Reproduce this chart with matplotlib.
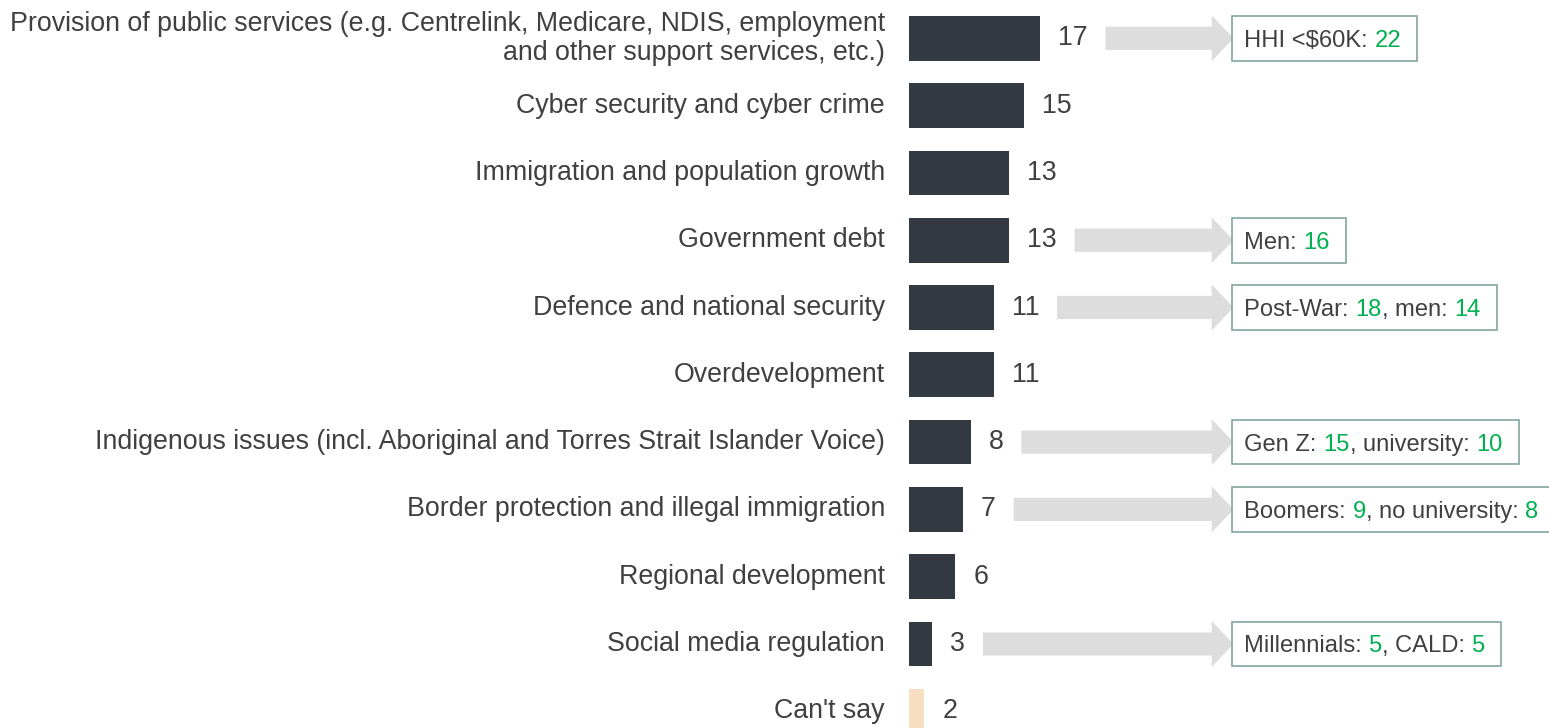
import matplotlib
matplotlib.use("Agg")
import matplotlib.pyplot as plt
from matplotlib.patches import Polygon, Rectangle

# Share of respondents naming each issue (%)
categories = [
    "Provision of public services (e.g. Centrelink, Medicare, NDIS, employment\n"
    "and other support services, etc.)",
    "Cyber security and cyber crime",
    "Immigration and population growth",
    "Government debt",
    "Defence and national security",
    "Overdevelopment",
    "Indigenous issues (incl. Aboriginal and Torres Strait Islander Voice)",
    "Border protection and illegal immigration",
    "Regional development",
    "Social media regulation",
    "Can't say",
]
values = [17, 15, 13, 13, 11, 11, 8, 7, 6, 3, 2]

# Sub-groups that stand out for some issues
callout_rows = [0, 3, 4, 6, 7, 9]
callout_groups = [
    ["HHI <$60K"],
    ["Men"],
    ["Post-War", "men"],
    ["Gen Z", "university"],
    ["Boomers", "no university"],
    ["Millennials", "CALD"],
]
callout_values = [[22], [16], [18, 14], [15, 10], [9, 8], [5, 5]]

W, H, DPI = 1549, 728, 100
BAR_LEFT = 909          # px where the bars start
X_SCALE = 7.69          # px per percentage point
ROW_TOP = 38.3          # px centre of first row
ROW_STEP = 67.3         # px between rows

TEXT = "#404040"
GREEN = "#00b050"
BAR = "#343a42"
CANT_SAY = "#f6dfc1"
ARROW = "#dddddd"
BOX_EDGE = "#82a59d"
FONT = "Liberation Sans"
LABEL_SIZE = 19.3
BOX_SIZE = 17.1


def px(dx):
    """Convert a horizontal pixel distance to data units."""
    return dx / X_SCALE


def text_width(fig, renderer, s, size):
    """Width in px of a string, trailing spaces included."""
    t = fig.text(0, 0, s + "|", fontsize=size, family=FONT)
    bar = fig.text(0, 0, "|", fontsize=size, family=FONT)
    w = t.get_window_extent(renderer).width - bar.get_window_extent(renderer).width
    t.remove()
    bar.remove()
    return w


def draw_callout(ax, fig, renderer, y, x_start, groups, nums):
    """Grey arrow pointing at a framed box with highlighted numbers."""
    bar_h = 44.7 / ROW_STEP
    shaft = 11.6 / ROW_STEP
    head = 23.0 / ROW_STEP
    head_base = px(1211.7 - BAR_LEFT)
    tip = px(1233.5 - BAR_LEFT)
    box_left = px(1232.3 - BAR_LEFT)

    ax.add_patch(Polygon(
        [(x_start, y - shaft), (head_base, y - shaft), (head_base, y - head),
         (tip, y), (head_base, y + head), (head_base, y + shaft),
         (x_start, y + shaft)],
        closed=True, facecolor=ARROW, edgecolor="none", clip_on=False, zorder=2))

    # build the text piece by piece so the numbers can be coloured
    pieces = []
    for i, (g, n) in enumerate(zip(groups, nums)):
        if i > 0:
            pieces.append((", ", TEXT))
        pieces.append((f"{g}: ", TEXT))
        pieces.append((str(n), GREEN))

    x_text = box_left + px(12)
    full = ""
    for s, colour in pieces:
        offset = text_width(fig, renderer, full, BOX_SIZE) if full else 0
        ax.text(x_text + px(offset), y, s, fontsize=BOX_SIZE, family=FONT,
                color=colour, ha="left", va="center_baseline", zorder=4,
                clip_on=False)
        full += s
    total = text_width(fig, renderer, full, BOX_SIZE)
    box_w = px(12 + total + 16)
    ax.add_patch(Rectangle((box_left, y - bar_h / 2), box_w, bar_h,
                           facecolor="white", edgecolor=BOX_EDGE, lw=1.2,
                           clip_on=False, zorder=3))


def main():
    fig = plt.figure(figsize=(W / DPI, H / DPI), dpi=DPI)
    ax = fig.add_axes([BAR_LEFT / W, 0, 1 - BAR_LEFT / W, 1])
    ax.set_xlim(0, (W - BAR_LEFT) / X_SCALE)
    ax.set_ylim((H - ROW_TOP) / ROW_STEP, -ROW_TOP / ROW_STEP)
    ax.axis("off")

    rows = list(range(len(categories)))
    colours = [CANT_SAY if c == "Can't say" else BAR for c in categories]
    ax.barh(rows, values, height=44.7 / ROW_STEP, color=colours, zorder=2)

    renderer = fig.canvas.get_renderer()
    inv = ax.transData.inverted()
    label_ends = []
    for r, (cat, v) in enumerate(zip(categories, values)):
        ax.text(px(-24), r, cat, fontsize=LABEL_SIZE, family=FONT, color=TEXT,
                ha="right", va="center", linespacing=1.12, clip_on=False)
        t = ax.text(v + px(18), r, str(v), fontsize=LABEL_SIZE, family=FONT,
                    color=TEXT, ha="left", va="center", clip_on=False)
        ext = t.get_window_extent(renderer)
        label_ends.append(inv.transform((ext.x1, ext.y0))[0])

    for r, groups, nums in zip(callout_rows, callout_groups, callout_values):
        draw_callout(ax, fig, renderer, r, label_ends[r] + px(18), groups, nums)

    fig.savefig("out.png", dpi=DPI, facecolor="white")


if __name__ == "__main__":
    main()
